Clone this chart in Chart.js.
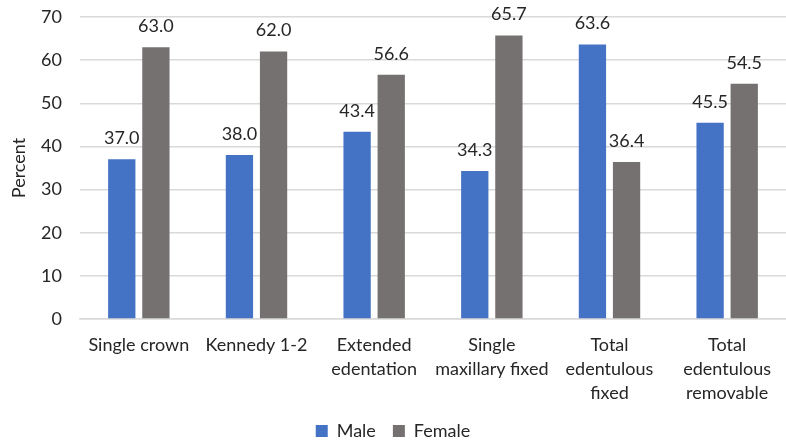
<!DOCTYPE html>
<html>
<head>
<meta charset="utf-8">
<script src="https://cdn.jsdelivr.net/npm/chart.js@4"></script>
<style>
  html, body { margin: 0; padding: 0; background: #ffffff; }
  #wrap { width: 786px; height: 441px; position: relative; }
</style>
</head>
<body>
<div id="wrap"><canvas id="chart" width="786" height="441"></canvas></div>
<script>
// Prosthetic treatment type, share by sex (percent)
const categories = [
  'Single crown',
  'Kennedy 1-2',
  ['Extended', 'edentation'],
  ['Single', 'maxillary fixed'],
  ['Total', 'edentulous', 'fixed'],
  ['Total', 'edentulous', 'removable']
];
const maleValues = [37.0, 38.0, 43.4, 34.3, 63.6, 45.5];
const femaleValues = [63.0, 62.0, 56.6, 65.7, 36.4, 54.5];
const yTicks = [0, 10, 20, 30, 40, 50, 60, 70];

const FONT = 'Lato, "Open Sans", sans-serif';
const SIZE = 18;
const TEXT = '#262626';

// Writes each bar's value above it
const valueLabels = {
  id: 'valueLabels',
  afterDatasetsDraw(chart) {
    const ctx = chart.ctx;
    ctx.save();
    ctx.font = SIZE + 'px ' + FONT;
    ctx.fillStyle = TEXT;
    ctx.textAlign = 'center';
    ctx.textBaseline = 'bottom';
    chart.data.datasets.forEach((ds, i) => {
      chart.getDatasetMeta(i).data.forEach((bar, j) => {
        ctx.fillText(ds.data[j].toFixed(1), bar.x, bar.y - 12);
      });
    });
    ctx.restore();
  }
};

// Keeps the legend row compact while leaving wide spacing between its items
const compactLegend = {
  id: 'compactLegend',
  beforeLayout(chart) {
    const lg = chart.legend;
    if (!lg || lg._compact) return;
    const fit = lg.fit.bind(lg);
    lg.fit = function () { fit(); this.height = 36; };
    lg._compact = true;
  }
};

new Chart(document.getElementById('chart'), {
  type: 'bar',
  data: {
    labels: categories,
    datasets: [
      { label: 'Male', data: maleValues, backgroundColor: '#4472C4' },
      { label: 'Female', data: femaleValues, backgroundColor: '#767171' }
    ]
  },
  options: {
    responsive: false,
    animation: false,
    devicePixelRatio: 1,
    layout: { padding: { top: 17, right: 0, bottom: 0, left: 0 } },
    datasets: { bar: { categoryPercentage: 0.58, barPercentage: 0.8 } },
    plugins: {
      legend: {
        position: 'bottom',
        labels: {
          font: { family: FONT, size: SIZE },
          color: TEXT,
          boxWidth: 12,
          boxHeight: 12,
          padding: 17
        }
      },
      tooltip: { enabled: false }
    },
    scales: {
      x: {
        grid: { display: false, drawTicks: false },
        border: { color: '#d9d9d9', width: 1.5 },
        ticks: {
          font: { family: FONT, size: SIZE, lineHeight: 1.33 },
          color: TEXT,
          maxRotation: 0,
          autoSkip: false,
          padding: 14
        },
        afterFit(scale) { scale.height = 86; scale.paddingLeft = 0; scale.paddingRight = 0; }
      },
      y: {
        min: 0,
        max: 70,
        afterBuildTicks(scale) { scale.ticks = yTicks.map(v => ({ value: v })); },
        afterFit(scale) { scale.width = 80; scale.paddingTop = 0; scale.paddingBottom = 0; },
        grid: { color: '#d9d9d9', lineWidth: 1.5, drawTicks: false },
        border: { display: false },
        ticks: {
          font: { family: FONT, size: SIZE },
          color: TEXT,
          padding: 18
        },
        title: {
          display: true,
          text: 'Percent',
          font: { family: FONT, size: SIZE },
          color: TEXT,
          padding: { top: 8, bottom: 0 }
        }
      }
    }
  },
  plugins: [valueLabels, compactLegend]
});
</script>
</body>
</html>
